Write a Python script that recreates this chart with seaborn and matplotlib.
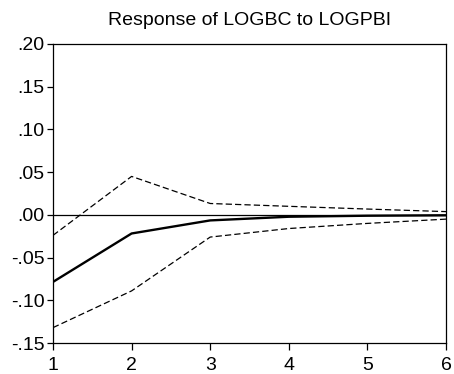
import matplotlib
matplotlib.use("Agg")
import matplotlib.pyplot as plt
import seaborn as sns
import pandas as pd
from matplotlib.ticker import FuncFormatter

# Impulse response of LOGBC to a LOGPBI shock, with +/- 2 S.E. bands
periods = [1, 2, 3, 4, 5, 6]
response = [-0.0785, -0.0218, -0.0065, -0.0022, -0.0010, -0.0005]
upper_band = [-0.0240, 0.0450, 0.0133, 0.0100, 0.0068, 0.0038]
lower_band = [-0.1320, -0.0890, -0.0260, -0.0160, -0.0100, -0.0050]

y_ticks = [-0.15, -0.10, -0.05, 0.00, 0.05, 0.10, 0.15, 0.20]

sns.set_style("ticks")
plt.rcParams['font.family'] = ['Liberation Sans', 'DejaVu Sans']
plt.rcParams['text.color'] = 'black'

df = pd.DataFrame({"period": periods, "response": response,
                   "upper": upper_band, "lower": lower_band})

fig = plt.figure(figsize=(4.54, 3.74), dpi=100)
ax = fig.add_axes([53 / 454, 1 - 343 / 374, 393 / 454, 299 / 374])

ax.axhline(0, color="black", linewidth=0.9, zorder=1)
sns.lineplot(data=df, x="period", y="response", ax=ax, color="black", linewidth=1.7)
sns.lineplot(data=df, x="period", y="upper", ax=ax, color="black",
             linewidth=0.9, linestyle=(0, (5, 2.5)))
sns.lineplot(data=df, x="period", y="lower", ax=ax, color="black",
             linewidth=0.9, linestyle=(0, (5, 2.5)))

ax.set_xlim(1, 6)
ax.set_ylim(-0.15, 0.20)
ax.set_xticks(periods)
ax.set_yticks(y_ticks)


def fmt(v, _):
    s = f"{v:.2f}"
    return s.replace("0.", ".", 1)


ax.yaxis.set_major_formatter(FuncFormatter(fmt))
ax.set_xlabel("")
ax.set_ylabel("")
ax.set_title("Response of LOGBC to LOGPBI", fontsize=14, pad=14, color="black")
ax.tick_params(axis="both", labelsize=14, width=0.9, color="black",
               labelcolor="black")
ax.tick_params(axis="y", length=4, pad=2)
ax.tick_params(axis="x", length=5, pad=5)
for sp in ax.spines.values():
    sp.set_visible(True)
    sp.set_color("black")
    sp.set_linewidth(0.9)

fig.savefig("out.png", dpi=100)
